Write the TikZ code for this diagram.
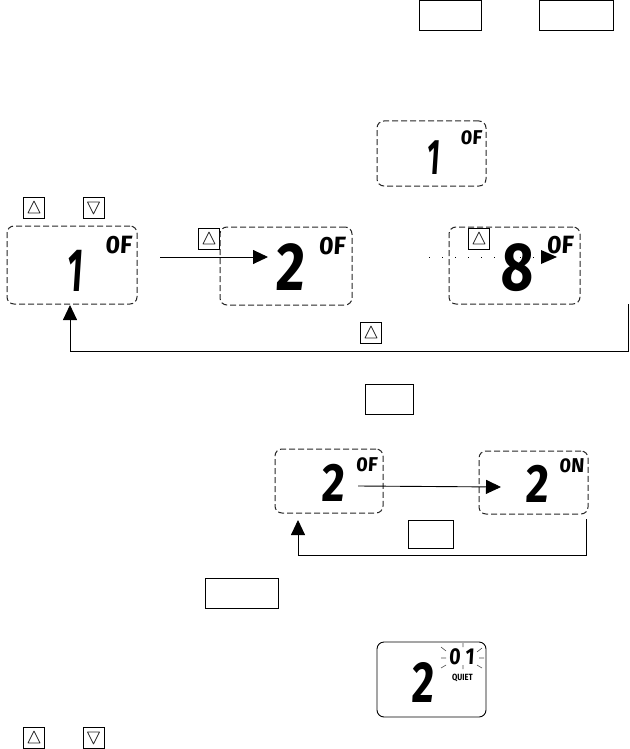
\documentclass[tikz,border=0pt]{standalone}
\usepackage{fontspec}
\setmainfont{Fira Sans}
\usetikzlibrary{arrows.meta}
\definecolor{lcdgrey}{gray}{0.15}
\tikzset{
  x=1pt,y=-1pt,
  btnbox/.style={draw=black,line width=0.9pt,inner sep=0pt,fill=none},
  keybtn/.style={btnbox,minimum width=21pt,minimum height=21pt},
  lcd/.style={draw=lcdgrey,line width=1pt,dash pattern=on 6pt off 3pt,rounded corners=7pt,inner sep=0pt},
  lcdsolid/.style={draw=black,line width=0.9pt,rounded corners=7pt,inner sep=0pt},
  bigdigit/.style={font=\fontsize{68}{68}\selectfont\bfseries,inner sep=0pt,transform shape,xscale=0.82,xslant=0.06},
  onedigit/.style={inner sep=0pt,transform shape,xscale=0.55,xslant=0.12},
  smalltag/.style={font=\fontsize{25}{25}\selectfont\bfseries,inner sep=0pt,transform shape,xscale=1.0,xslant=0.06},
  link/.style={draw=black,line width=0.9pt,-{Triangle[length=15pt,width=14pt]}},
  tri/.style={draw=lcdgrey,line width=0.7pt,line join=round},
  ray/.style={draw=black!70,line width=0.6pt}
}
\newcommand{\upkey}[3]{\node[keybtn] (#1) at (#2,#3) {};
  \draw[tri] (#2-6,#3+5.5) -- (#2,#3-6.5) -- (#2+6,#3+5.5) -- cycle;}
\newcommand{\downkey}[3]{\node[keybtn] (#1) at (#2,#3) {};
  \draw[tri] (#2-6,#3-5.5) -- (#2,#3+6.5) -- (#2+6,#3-5.5) -- cycle;}
\begin{document}
\begin{tikzpicture}
\useasboundingbox (0,0) rectangle (629,749);
% plain keys
\node[btnbox,minimum width=62pt,minimum height=30pt] (keyA) at (450,15) {};
\node[btnbox,minimum width=74pt,minimum height=30pt] (keyB) at (576,15) {};
\node[btnbox,minimum width=48pt,minimum height=30pt] (keyC) at (389,399) {};
\node[btnbox,minimum width=45pt,minimum height=28pt] (keyD) at (430.5,534) {};
\node[btnbox,minimum width=73pt,minimum height=30pt] (keyE) at (241.5,593) {};
% triangle keys
\upkey{k1}{34}{207.5}
\downkey{k2}{93.5}{207.5}
\upkey{k3}{209}{238.5}
\upkey{k4}{479}{238.5}
\upkey{k5}{371}{332.5}
\upkey{k6}{34}{737.5}
\downkey{k7}{93.5}{737.5}
% displays
\node[lcd,minimum width=109pt,minimum height=65pt] (top) at (431.5,153.5) {};
\node[lcd,minimum width=130pt,minimum height=78pt] (one) at (72,265) {};
\node[lcd,minimum width=132pt,minimum height=78pt] (two) at (286,266) {};
\node[lcd,minimum width=131pt,minimum height=77pt] (eight) at (514.5,265.5) {};
\node[lcd,minimum width=108pt,minimum height=64pt] (off) at (329,481) {};
\node[lcd,minimum width=109pt,minimum height=63pt] (on) at (533.5,482.5) {};
\node[lcdsolid,minimum width=109pt,minimum height=75pt] (last) at (431.5,679.5) {};
% display contents
\node[onedigit,font=\fontsize{50}{50}\selectfont\bfseries] (d1) at (433.5,158) {1};
\node[smalltag,font=\fontsize{20}{20}\selectfont\bfseries] (t1) at (471.5,137.5) {0F};
\node[onedigit,font=\fontsize{61}{61}\selectfont\bfseries] (d2) at (75.5,271) {1};
\node[smalltag] (t2) at (119,245.5) {0F};
\node[bigdigit] (d3) at (291,267.5) {2};
\node[smalltag] (t3) at (332.5,246) {0F};
\node[bigdigit] (d4) at (518,267.5) {8};
\node[smalltag] (t4) at (560.5,245.5) {0F};
\node[bigdigit,font=\fontsize{54}{54}\selectfont\bfseries] (d5) at (333.5,482.5) {2};
\node[smalltag,font=\fontsize{20}{20}\selectfont\bfseries] (t5) at (367,464.5) {0F};
\node[bigdigit,font=\fontsize{54}{54}\selectfont\bfseries] (d6) at (537.5,484) {2};
\node[smalltag,font=\fontsize{20}{20}\selectfont\bfseries] (t6) at (572,466) {0N};
\node[bigdigit,font=\fontsize{58}{58}\selectfont\bfseries,xscale=0.9] (d7) at (423.5,682) {2};
\node[smalltag,font=\fontsize{23}{23}\selectfont\bfseries,xscale=0.85] (t7) at (462,656.5) {0 1};
\node[font=\fontsize{9}{9}\selectfont\bfseries,inner sep=0pt,transform shape,xscale=0.85] (q) at (462.5,677.5) {QUIET};
% blink rays
\draw[ray] (441,647) -- (446,651) (441,658) -- (446,658) (441,668) -- (446,665)
           (463,643) -- (463,647) (463,665) -- (463,669)
           (482,648) -- (477,652) (479,658) -- (484,658) (482,668) -- (477,665);
% arrow coordinates
\coordinate (a1s) at (160,257);
\coordinate (a1e) at (268,257);
\coordinate (a2s) at (429,257);
\coordinate (a2m) at (541,257);
\coordinate (a2e) at (557,257);
\coordinate (a3s) at (628,304);
\coordinate (a3b) at (628,351);
\coordinate (a3c) at (70,351);
\coordinate (a3e) at (70,305);
\coordinate (a4s) at (358,486);
\coordinate (a4e) at (501,487);
\coordinate (a5s) at (586,519);
\coordinate (a5b) at (586,555.5);
\coordinate (a5c) at (298,555.5);
\coordinate (a5e) at (298,520);
\draw[link] (a1s) -- (a1e);
\draw[black,line width=0.9pt,dash pattern=on 1pt off 12pt] (a2s) -- (a2m);
\fill[black] (a2m) ++(0,-7) -- (a2e) -- (541,264) -- cycle;
\draw[link] (a3s) -- (a3b) -- (a3c) -- (a3e);
\draw[link] (a4s) -- (a4e);
\draw[link] (a5s) -- (a5b) -- (a5c) -- (a5e);
\end{tikzpicture}
\end{document}
